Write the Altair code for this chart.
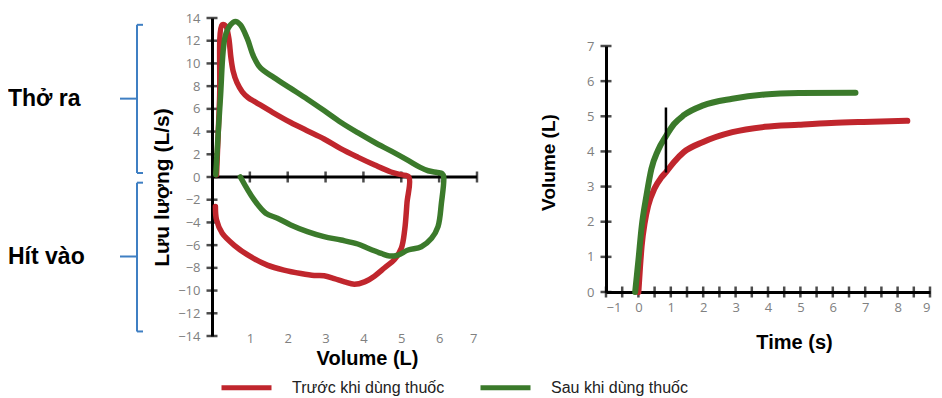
import altair as alt
import pandas as pd

# ---------------- Flow-volume loop (left) ----------------
red_fv_vol = [0.12, 0.2, 0.27, 0.36, 0.44, 0.5, 0.56, 0.66, 0.8, 0.95, 1.15, 1.6, 2.08, 2.5, 2.96, 3.4, 3.85, 4.3, 4.73, 5.0, 5.2,
              5.15, 5.09, 5.0, 4.82, 4.56, 4.29, 4.03, 3.76, 3.5, 3.23, 2.96, 2.7, 2.35, 1.9, 1.46, 1.02, 0.58, 0.27, 0.12, 0.09]
red_fv_flow = [0.2, 6.9, 13.4, 13.3, 12.3, 10.5, 9.3, 8.3, 7.5, 7.0, 6.6, 5.7, 4.8, 4.1, 3.35, 2.5, 1.75, 1.05, 0.44, 0.2, 0.0,
               -2.3, -4.66, -6.28, -7.26, -7.99, -8.73, -9.23, -9.44, -9.23, -8.94, -8.7, -8.67, -8.5, -8.2, -7.76, -7.02, -5.99, -4.96, -3.78, -2.6]

green_fv_vol = [0.1, 0.22, 0.35, 0.49, 0.62, 0.75, 0.93, 1.1, 1.28, 1.64, 2.08, 2.52, 2.96, 3.41, 3.85, 4.29, 4.75, 5.18, 5.5, 5.71, 5.95, 6.08, 6.12,
                6.06, 5.97, 5.8, 5.53, 5.18, 4.91, 4.69, 4.47, 4.12, 3.85, 3.41, 2.96, 2.52, 2.08, 1.73, 1.42, 1.11, 0.75]
green_fv_flow = [0.2, 6.85, 12.4, 13.4, 13.7, 13.4, 12.2, 10.6, 9.6, 8.75, 7.8, 6.85, 5.85, 4.8, 3.9, 3.06, 2.25, 1.46, 0.85, 0.55, 0.4, 0.3, 0.0,
                 -2.3, -4.37, -5.4, -6.14, -6.43, -6.87, -6.96, -6.73, -6.28, -5.9, -5.55, -5.25, -4.81, -4.22, -3.63, -3.19, -2.0, 0.0]

# ---------------- Volume-time curve (right) ----------------
red_vt_time = [0, 0.05, 0.1, 0.2, 0.3, 0.5, 0.7, 0.86, 1.1, 1.4, 2.0, 2.9, 3.9, 4.95, 5.95, 6.95, 8.3]
red_vt_vol = [0, 0.7, 1.3, 2.0, 2.45, 2.95, 3.25, 3.42, 3.7, 3.98, 4.27, 4.55, 4.7, 4.76, 4.81, 4.84, 4.87]
green_vt_time = [-0.1, -0.05, 0, 0.1, 0.25, 0.4, 0.6, 0.86, 1.1, 1.4, 2.0, 2.9, 3.9, 4.95, 6.7]
green_vt_vol = [0, 0.45, 0.9, 1.85, 2.75, 3.5, 4.02, 4.45, 4.78, 5.03, 5.31, 5.5, 5.62, 5.66, 5.67]

fev1_time = [0.85]
fev1_low = [3.4]
fev1_high = [5.25]

series_names = ["Trước khi dùng thuốc", "Sau khi dùng thuốc"]
series_colors = ["#C0262D", "#3B7A2B"]

ann_labels = ["Thở ra", "Hít vào"]
ann_flow = [6.9, -7.0]
bracket_top = [13.4, -0.5]
bracket_bottom = [0.35, -13.6]

fv_x_labels = [1, 2, 3, 4, 5, 6, 7]
fv_y_labels = [-14, -12, -10, -8, -6, -4, -2, 0, 2, 4, 6, 8, 10, 12, 14]
vt_x_labels = [-1, 0, 1, 2, 3, 4, 5, 6, 7, 8, 9]
vt_x_ticks = [-1, -0.5, 0, 0.5, 1, 1.5, 2, 2.5, 3, 3.5, 4, 4.5, 5, 5.5, 6, 6.5, 7, 7.5, 8, 8.5, 9]
vt_y_labels = [0, 1, 2, 3, 4, 5, 6, 7]

LABEL_GRAY = "#808080"
TICK_FONT = "Open Sans"
TITLE_FONT = "Liberation Sans"
BLUE = "#3F7FC3"

fv_df = pd.concat([
    pd.DataFrame({"x": red_fv_vol, "y": red_fv_flow, "series": series_names[0], "i": range(len(red_fv_vol))}),
    pd.DataFrame({"x": green_fv_vol, "y": green_fv_flow, "series": series_names[1], "i": range(len(green_fv_vol))}),
])
vt_df = pd.concat([
    pd.DataFrame({"x": red_vt_time, "y": red_vt_vol, "series": series_names[0], "i": range(len(red_vt_time))}),
    pd.DataFrame({"x": green_vt_time, "y": green_vt_vol, "series": series_names[1], "i": range(len(green_vt_time))}),
])

legend = alt.Legend(orient="none", legendX=7, legendY=342, direction="horizontal", title=None,
                    symbolType="stroke", symbolSize=2500, symbolStrokeWidth=5,
                    labelFont=TITLE_FONT, labelFontSize=16, labelColor="#222222",
                    labelOffset=18, columnPadding=25)
color = alt.Color("series:N", scale=alt.Scale(domain=series_names, range=series_colors), legend=legend)

# ---------- left panel ----------
xL = alt.X("x:Q", scale=alt.Scale(domain=[0, 7], nice=False, zero=False),
           axis=alt.Axis(values=fv_x_labels, domain=False, ticks=False, grid=False, labelOverlap=False,
                         labelColor=LABEL_GRAY, labelFont=TICK_FONT, labelFontSize=13, labelPadding=2,
                         labelBaseline="middle",
                         title="Volume (L)", titleFont=TITLE_FONT, titleFontSize=20, titleFontWeight="bold",
                         titleColor="black", titleX=155, titleY=22, titleBaseline="middle", titleAlign="center"))
yL = alt.Y("y:Q", scale=alt.Scale(domain=[-14, 14], nice=False, zero=False),
           axis=alt.Axis(values=fv_y_labels, domain=True, domainColor="black", domainWidth=3, ticks=False, grid=False,
                         labelOverlap=False,
                         labelColor=LABEL_GRAY, labelFont=TICK_FONT, labelFontSize=13, labelPadding=12,
                         title="Lưu lượng (L/s)", titleFont=TITLE_FONT, titleFontSize=21, titleFontWeight="bold",
                         titleColor="black", titleX=-50, titleY=169, titleAngle=-90, titleBaseline="middle",
                         titleAlign="center"))

fv_lines = alt.Chart(fv_df).mark_line(strokeWidth=5.5, strokeCap="round", strokeJoin="round",
                                      interpolate="catmull-rom").encode(
    x=xL, y=yL, color=color, order="i:Q", detail="series:N")

fv_xaxis = alt.Chart(pd.DataFrame({"x": [0], "x2": [7], "y": [0]})).mark_rule(
    color="black", strokeWidth=3).encode(x=xL, x2="x2:Q", y=yL)
fv_yticks = alt.Chart(pd.DataFrame({"x": [0] * len(fv_y_labels), "y": fv_y_labels})).mark_tick(
    orient="horizontal", size=11, thickness=2.5, color="black").encode(x=xL, y=yL)
fv_xticks = alt.Chart(pd.DataFrame({"x": fv_x_labels, "y": [0] * len(fv_x_labels)})).mark_tick(
    orient="vertical", size=11, thickness=2.5, color="black").encode(x=xL, y=yL)

ann_df = pd.DataFrame({"label": ann_labels, "y": ann_flow})
ann_text = alt.Chart(ann_df).mark_text(align="left", baseline="middle", font=TITLE_FONT, fontSize=23,
                                       fontWeight="bold", color="black").encode(
    x=alt.value(-204), y=yL, text="label:N")
br_vert = alt.Chart(pd.DataFrame({"y": bracket_top, "y2": bracket_bottom})).mark_rule(
    color=BLUE, strokeWidth=2).encode(x=alt.value(-75), y=yL, y2="y2:Q")
br_top = alt.Chart(pd.DataFrame({"y": bracket_top})).mark_rule(color=BLUE, strokeWidth=2).encode(
    x=alt.value(-75), x2=alt.value(-69), y=yL)
br_bot = alt.Chart(pd.DataFrame({"y": bracket_bottom})).mark_rule(color=BLUE, strokeWidth=2).encode(
    x=alt.value(-75), x2=alt.value(-69), y=yL)
br_mid = alt.Chart(ann_df).mark_rule(color=BLUE, strokeWidth=2).encode(
    x=alt.value(-92), x2=alt.value(-75), y=yL)

left = alt.layer(fv_xaxis, fv_yticks, fv_xticks, fv_lines, ann_text, br_vert, br_top, br_bot, br_mid).properties(
    width=265, height=318)

# ---------- right panel ----------
R_H = 274
R_TOP = 28
xR = alt.X("x:Q", scale=alt.Scale(domain=[-1, 9], nice=False, zero=False),
           axis=alt.Axis(values=vt_x_labels, domain=True, domainColor="black", domainWidth=3, ticks=False, grid=False,
                         labelOverlap=False,
                         labelColor=LABEL_GRAY, labelFont=TICK_FONT, labelFontSize=13, labelPadding=9,
                         title="Time (s)", titleFont=TITLE_FONT, titleFontSize=20, titleFontWeight="bold",
                         titleColor="black", titleX=188, titleY=50, titleBaseline="middle", titleAlign="center"))
yR = alt.Y("y:Q", scale=alt.Scale(domain=[0, 7], nice=False, zero=False, range=[R_H, R_TOP]),
           axis=alt.Axis(values=vt_y_labels, domain=True, domainColor="black", domainWidth=3, ticks=False, grid=False,
                         labelOverlap=False,
                         labelColor=LABEL_GRAY, labelFont=TICK_FONT, labelFontSize=13, labelPadding=12,
                         title="Volume (L)", titleFont=TITLE_FONT, titleFontSize=19, titleFontWeight="bold",
                         titleColor="black", titleX=-58, titleY=144, titleAngle=-90, titleBaseline="middle",
                         titleAlign="center"))

vt_lines = alt.Chart(vt_df).mark_line(strokeWidth=6, strokeCap="round", strokeJoin="round",
                                      interpolate="monotone").encode(
    x=xR, y=yR, color=color, order="i:Q", detail="series:N")
vt_xticks = alt.Chart(pd.DataFrame({"x": vt_x_ticks, "y": [0] * len(vt_x_ticks)})).mark_tick(
    orient="vertical", size=11, thickness=2.5, color="black").encode(x=xR, y=yR)
vt_yticks = alt.Chart(pd.DataFrame({"x": [-1] * len(vt_y_labels), "y": vt_y_labels})).mark_tick(
    orient="horizontal", size=11, thickness=2.5, color="black").encode(x=xR, y=yR)
fev1 = alt.Chart(pd.DataFrame({"x": fev1_time, "y": fev1_low, "y2": fev1_high})).mark_rule(
    color="black", strokeWidth=2.5).encode(x=xR, y=yR, y2="y2:Q")

right = alt.layer(vt_xticks, vt_yticks, vt_lines, fev1).properties(width=324, height=R_H)

chart = alt.hconcat(left, right, spacing=60).properties(
    padding={"left": 0, "top": 4, "right": 0, "bottom": 26}
).configure_view(stroke=None)

chart.save("out.html", embed_options={"renderer": "svg", "actions": False})
